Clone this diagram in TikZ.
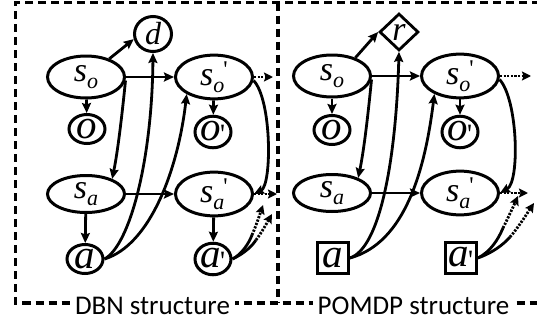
\documentclass[tikz,border=0pt]{standalone}
\usepackage{fontspec}
\setmainfont{Liberation Serif}
\newfontfamily\lblfont{Liberation Serif}
\newfontfamily\capfont{Carlito}
\usetikzlibrary{arrows.meta,shapes.geometric}
\newcommand{\Ls}{{\lblfont\fontsize{34}{34}\selectfont\itshape s}}
\newcommand{\Lsub}[1]{\raisebox{-7pt}{\lblfont\fontsize{22}{22}\selectfont\itshape #1}}
\newcommand{\Lpr}{\kern-1pt\raisebox{8pt}{\lblfont\fontsize{24}{24}\selectfont\char"27}}
\newcommand{\Lbig}[1]{{\lblfont\fontsize{41}{41}\selectfont\itshape #1}}
\newcommand{\Lbigp}[1]{{\lblfont\fontsize{41}{41}\selectfont\itshape #1}\kern-1pt\raisebox{-3pt}{\lblfont\fontsize{28}{28}\selectfont\char"27}}
\tikzset{
 ellbig/.style={ellipse, draw, line width=3pt, inner sep=0pt, minimum width=77pt, minimum height=42pt},
 ellmid/.style={ellipse, draw, line width=3pt, inner sep=0pt, minimum width=77pt, minimum height=37pt},
 ellsm/.style={ellipse, draw, line width=3pt, inner sep=0pt, minimum width=36pt, minimum height=29pt},
 sqnode/.style={rectangle, draw, line width=2.8pt, inner sep=0pt, minimum size=31pt},
 dianode/.style={diamond, draw, line width=2.8pt, inner sep=0pt, minimum width=39pt, minimum height=37pt},
 dashbox/.style={line width=3.2pt, dash pattern=on 8pt off 5pt},
 arr/.style={line width=2.8pt, -{Stealth[length=10pt,width=9pt,inset=1.5pt]}},
 plain/.style={line width=2.8pt},
 dotarr/.style={line width=2.8pt, dash pattern=on 2.2pt off 1.4pt, -{Stealth[length=9pt,width=9pt,inset=1.5pt]}},
 captxt/.style={fill=white, inner xsep=5pt, inner ysep=1pt, font=\capfont\fontsize{27}{27}\selectfont, anchor=base}
}
\begin{document}
\begin{tikzpicture}[x=1pt,y=-1pt]
\useasboundingbox (0,0) rectangle (537,324);
% boxes
\coordinate (tl) at (15.5,2.5);
\coordinate (tr) at (540,2.5);
\coordinate (bl) at (15.5,303);
\coordinate (br) at (540,303);
\coordinate (mt) at (278,2.5);
\coordinate (mb) at (278,303);
\draw[dashbox] (tr) -- (tl) -- (bl) -- (br);
\draw[dashbox] (mt) -- (mb);
\node[captxt] (cap1) at (152.5,314) {DBN structure};
\node[captxt] (cap2) at (413.5,314) {POMDP structure};
% left nodes
\node[ellbig] (so1) at (86,77) {\Ls\Lsub{o}};
\node[ellsm, minimum width=37pt, minimum height=35pt] (d) at (153,34) {{\lblfont\fontsize{32}{32}\selectfont\itshape d}};
\node[ellbig] (so1p) at (214,77) {\Ls\Lsub{o}\Lpr};
\node[ellsm] (o1) at (87,129) {\Lbig{o}};
\node[ellsm] (o1p) at (213,132) {\Lbigp{o}};
\node[ellmid] (sa1) at (86,194) {\Ls\Lsub{a}};
\node[ellmid] (sa1p) at (214,194) {\Ls\Lsub{a}\Lpr};
\node[ellsm] (a1) at (85,259) {\Lbig{a}};
\node[ellsm] (a1p) at (213,259) {\Lbigp{a}};
% right nodes
\node[ellbig] (so2) at (332,76) {\Ls\Lsub{o}};
\node[dianode] (r) at (399,32) {{\lblfont\fontsize{34}{34}\selectfont\itshape r}};
\node[ellbig] (so2p) at (460,76) {\Ls\Lsub{o}\Lpr};
\node[ellsm] (o2) at (332,130) {\Lbig{o}};
\node[ellsm] (o2p) at (460,132) {\Lbigp{o}};
\node[ellmid] (sa2) at (332,193) {\Ls\Lsub{a}};
\node[ellmid] (sa2p) at (460,193) {\Ls\Lsub{a}\Lpr};
\node[sqnode] (a2) at (333,258) {\Lbig{a}};
\node[sqnode] (a2p) at (461,258) {\Lbigp{a}};
% left edges
\draw[arr] (so1.38) -- (d.195);
\draw[arr] (so1) -- (so1p);
\draw[arr] (so1) -- (o1);
\draw[arr] (so1p) -- (o1p);
\draw[arr] (sa1) -- (sa1p);
\draw[arr] (sa1) -- (a1);
\draw[arr] (sa1p) -- (a1p);
\draw[arr] (so1.-5) .. controls (122,115) and (118,150) .. (sa1.30);
\draw[arr] (a1.east) .. controls (130,245) and (152,160) .. (d.south);
\draw[arr] (a1.east) .. controls (150,245) and (178,170) .. (so1p.-148);
\draw[arr] (so1p.-5) .. controls (272,100) and (272,185) .. (sa1p.east);
\coordinate (t1a) at (273,77);
\coordinate (t1b) at (277,194);
\draw[dotarr] (so1p.east) -- (t1a);
\draw[dotarr] (sa1p.east) -- (t1b);
\coordinate (m1) at (252,235);
\coordinate (e1) at (263,205);
\coordinate (m2) at (256,240);
\coordinate (e2) at (272,214);
\draw[plain] (a1p.east) .. controls (242,254) and (249,243) .. (m1);
\draw[dotarr] (m1) .. controls (256,226) and (260,214) .. (e1);
\draw[plain] (a1p.east) .. controls (245,253) and (252,246) .. (m2);
\draw[dotarr] (m2) .. controls (262,232) and (268,221) .. (e2);
% right edges
\draw[arr] (so2.38) -- (r.west);
\draw[arr] (so2) -- (so2p);
\draw[arr] (so2) -- (o2);
\draw[arr] (so2p) -- (o2p);
\draw[arr] (sa2) -- (sa2p);
\draw[arr] (so2.-5) .. controls (368,115) and (364,150) .. (sa2.30);
\draw[arr] (a2.east) .. controls (380,248) and (396,160) .. (r.south);
\draw[arr] (a2.east) .. controls (405,243) and (425,170) .. (so2p.-145);
\draw[arr] (so2p.-5) .. controls (518,100) and (520,182) .. (sa2p.east);
\coordinate (t2a) at (531,76);
\coordinate (t2b) at (528,193);
\draw[dotarr] (so2p.east) -- (t2a);
\draw[dotarr] (sa2p.east) -- (t2b);
\coordinate (m3) at (503,228);
\coordinate (e3) at (518,196);
\coordinate (m4) at (510,237);
\coordinate (e4) at (534,203);
\draw[plain] (a2p.east) .. controls (490,252) and (498,240) .. (m3);
\draw[dotarr] (m3) .. controls (508,218) and (514,205) .. (e3);
\draw[plain] (a2p.east) .. controls (492,253) and (503,245) .. (m4);
\draw[dotarr] (m4) .. controls (518,228) and (528,212) .. (e4);
\end{tikzpicture}
\end{document}
